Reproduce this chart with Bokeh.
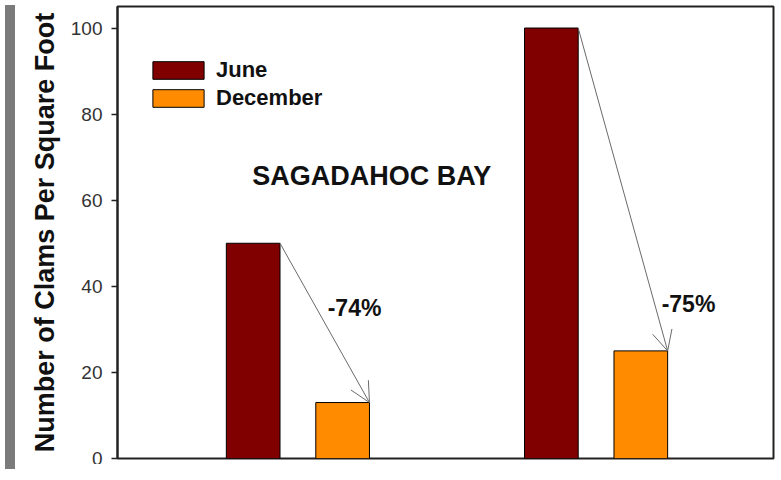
from bokeh.plotting import figure
from bokeh.models import (Range1d, FixedTicker, Arrow, OpenHead, Label, Legend,
                          LegendItem, ColumnDataSource, Div)
from bokeh.layouts import row
from bokeh.embed import file_html
from bokeh.resources import INLINE
from bokeh.transform import dodge

# ---- data ----
sites = [1, 2]
june = [50, 100]
december = [13, 25]
changes = ["-74%", "-75%"]
series = ["June", "December"]
colors = ["#800000", "#FF8C00"]
y_ticks = [0, 20, 40, 60, 80, 100]
title_text = "SAGADAHOC BAY"
y_label = "Number of Clams Per Square Foot"

FONT = "Liberation Sans"
src = ColumnDataSource(dict(site=sites, june=june, december=december))

p = figure(width=755, height=464,
           x_range=Range1d(0.395, 2.595), y_range=Range1d(0, 105),
           output_backend="svg", toolbar_location=None,
           x_axis_location=None,
           min_border_left=97, min_border_right=2,
           min_border_top=6, min_border_bottom=6)
p.background_fill_color = "white"
p.border_fill_color = "white"
p.xgrid.visible = False
p.ygrid.visible = False
p.outline_line_color = "#222222"
p.outline_line_width = 2

bw = 0.18
off = 0.15
r_june = p.vbar(x=dodge("site", -off, range=p.x_range), top="june", width=bw,
                source=src, fill_color=colors[0], line_color="black", line_width=1)
r_dec = p.vbar(x=dodge("site", off, range=p.x_range), top="december", width=bw,
               source=src, fill_color=colors[1], line_color="black", line_width=1)

# arrows from June bar top-right corner to December bar top-right corner
for s, a, b in zip(sites, june, december):
    p.add_layout(Arrow(x_start=s - off + bw / 2, y_start=a,
                       x_end=s + off + bw / 2, y_end=b,
                       line_color="#6a6a6a", line_width=1,
                       end=OpenHead(size=20, line_color="#6a6a6a", line_width=1)))

# percent labels
pct_dx = [0.19, 0.31]
pct_y = [34.9, 35.9]
for s, t, dx, yy in zip(sites, changes, pct_dx, pct_y):
    p.add_layout(Label(x=s + dx, y=yy, text=t, text_align="center",
                       text_baseline="middle", text_font=FONT,
                       text_font_size="23px", text_font_style="bold",
                       text_color="#111111"))

p.add_layout(Label(x=1.248, y=65.6, text=title_text, text_align="center",
                   text_baseline="middle", text_font=FONT,
                   text_font_size="27px", text_font_style="bold",
                   text_color="#111111"))

# y axis
yax = p.yaxis[0]
yax.ticker = FixedTicker(ticks=y_ticks)
yax.axis_label = y_label
yax.axis_label_text_font = FONT
yax.axis_label_text_font_size = "27px"
yax.axis_label_text_font_style = "bold"
yax.axis_label_text_color = "#111111"
yax.axis_label_standoff = 8
yax.major_label_text_font = FONT
yax.major_label_text_font_size = "19px"
yax.major_label_text_color = "#333333"
yax.major_label_standoff = 9
yax.major_tick_out = 6
yax.major_tick_in = 0
yax.minor_tick_line_color = None
yax.axis_line_width = 2
yax.axis_line_color = "#222222"
yax.major_tick_line_width = 1.5
yax.major_tick_line_color = "#222222"

legend = Legend(items=[LegendItem(label=series[0], renderers=[r_june]),
                       LegendItem(label=series[1], renderers=[r_dec])],
                location=(29, 347))
legend.border_line_color = None
legend.background_fill_alpha = 0
legend.glyph_width = 64
legend.glyph_height = 22
legend.label_height = 22
legend.label_text_font = FONT
legend.label_text_font_size = "22px"
legend.label_text_font_style = "bold"
legend.label_text_color = "#111111"
legend.label_standoff = 6
legend.spacing = 2
legend.padding = 0
legend.margin = 0
p.add_layout(legend)

strip = Div(width=10, height=464, styles={"background-color": "#7b7b7b"})
layout = row(strip, p)

open("out.html", "w").write(file_html(layout, INLINE))
